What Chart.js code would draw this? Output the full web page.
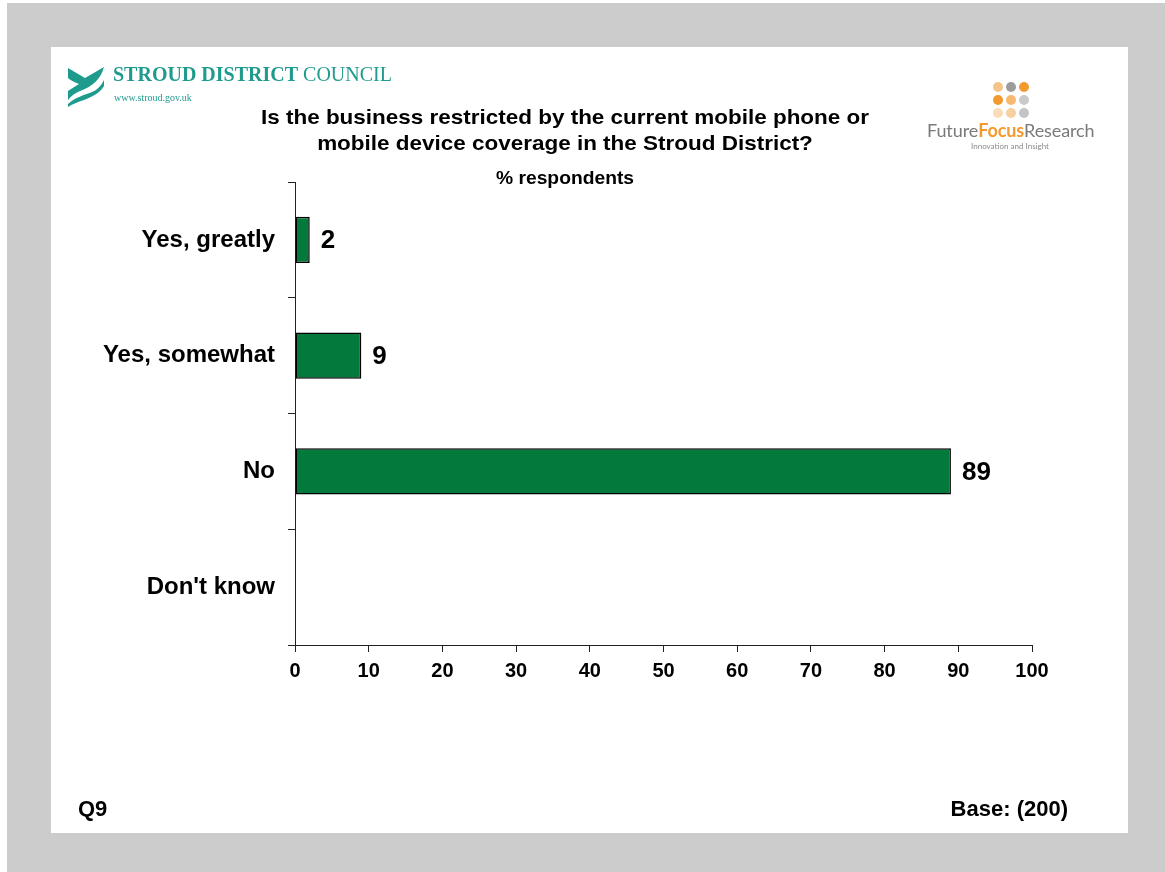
<!DOCTYPE html>
<html>
<head>
<meta charset="utf-8">
<title>Mobile coverage restriction – Stroud District</title>
<script src="https://cdn.jsdelivr.net/npm/chart.js@4.4.1/dist/chart.umd.min.js"></script>
<style>
  html, body { margin: 0; padding: 0; width: 1165px; height: 872px; overflow: hidden; background: #ffffff; }
  .frame { position: absolute; left: 7px; top: 3px; right: 0; bottom: 0; background: #cccccc; }
  .panel { position: absolute; left: 51px; top: 47px; width: 1077px; height: 786px; background: #ffffff; }
  #chart { position: absolute; left: 0; top: 0; z-index: 2; }
  .txt { position: absolute; z-index: 3; font-family: "Liberation Sans", Arial, sans-serif; font-weight: bold; color: #000; white-space: nowrap; }
  .title { left: 215px; width: 700px; top: 104px; text-align: center; font-size: 21px; line-height: 26px; transform: scaleX(1.07); transform-origin: 350px 0; }
  .subtitle { left: 415px; width: 300px; top: 168px; text-align: center; font-size: 18px; line-height: 20px; transform: scaleX(1.07); transform-origin: 150px 0; }
  .foot-left { left: 78px; top: 797px; font-size: 22px; line-height: 24px; }
  .foot-right { right: 97px; top: 797px; font-size: 22px; line-height: 24px; }
  .council { position: absolute; z-index: 3; left: 113px; top: 62px; font-family: "Liberation Serif", "DejaVu Serif", serif; color: #1f9b8e; font-size: 20px; line-height: 24px; white-space: nowrap; }
  .council b { font-weight: bold; }
  .council-web { position: absolute; z-index: 3; left: 114px; top: 93px; font-family: "Liberation Serif", serif; color: #1f9b8e; font-size: 10px; line-height: 10px; }
  .ffr { position: absolute; z-index: 3; left: 927px; top: 119px; font-family: Lato, "Open Sans", sans-serif; font-size: 18px; line-height: 22px; color: #7a7a7a; white-space: nowrap; letter-spacing: -0.1px; }
  .ffr b { color: #f39a2e; font-weight: bold; }
  .ffr-tag { position: absolute; z-index: 3; left: 968px; top: 141px; width: 84px; text-align: center; font-family: Lato, sans-serif; font-size: 8px; line-height: 10px; color: #8a8a8a; white-space: nowrap; }
  svg.logo { position: absolute; z-index: 3; }
</style>
</head>
<body>
<div class="frame"></div>
<div class="panel"></div>

<!-- Council logo -->
<svg class="logo" style="left:64px;top:62px" width="46" height="48" viewBox="64 62 46 48">
  <path d="M68,68 L85,78 L104,67 C101,79 92,87 80,91 C75,93 71,96 68,100 L68,91 C72,88 76,86 79,84 C74,82 70,80 68,78 Z" fill="#1f9b8e"/>
  <path d="M68,104 C74,98 84,95 92,92 C97,90 101,86 104,80 L104,86 C100,93 92,97 84,100 C78,102 72,104 68,107 Z" fill="#1f9b8e"/>
</svg>
<div class="council"><b>STROUD DISTRICT</b> COUNCIL</div>
<div class="council-web">www.stroud.gov.uk</div>

<!-- Research agency logo -->
<svg class="logo" style="left:990px;top:79px" width="42" height="42" viewBox="990 79 42 42">
  <circle cx="998" cy="87" r="5" fill="#f6c48a"/>
  <circle cx="1011" cy="87" r="5" fill="#9c9c9c"/>
  <circle cx="1024" cy="87" r="5" fill="#f39a2e"/>
  <circle cx="998" cy="100" r="5" fill="#f39a2e"/>
  <circle cx="1011" cy="100" r="5" fill="#f7b970"/>
  <circle cx="1024" cy="100" r="5" fill="#c9c9c9"/>
  <circle cx="998" cy="113" r="5" fill="#fbdcb8"/>
  <circle cx="1011" cy="113" r="5" fill="#f8cf9e"/>
  <circle cx="1024" cy="113" r="5" fill="#c4c4c4"/>
</svg>
<div class="ffr">Future<b>Focus</b>Research</div>
<div class="ffr-tag">Innovation and Insight</div>

<div class="txt title">Is the business restricted by the current mobile phone or<br>mobile device coverage in the Stroud District?</div>
<div class="txt subtitle">% respondents</div>
<div class="txt foot-left">Q9</div>
<div class="txt foot-right">Base: (200)</div>

<canvas id="chart" width="1165" height="872"></canvas>

<script>
// Answer categories, top to bottom
const categories = ['Yes, greatly', 'Yes, somewhat', 'No', "Don't know"];
// Share of respondents (%) for each answer; no one answered "Don't know"
const percentValues = [2, 9, 89, null];
// Percentage axis range and step
const axisMin = 0;
const axisMax = 100;
const axisStep = 10;

const FONT = '"Liberation Sans", Arial, sans-serif';
const AXIS_COLOR = '#222222';

// Writes each bar's value just past its end
const valueLabels = {
  id: 'valueLabels',
  afterDatasetsDraw(chart) {
    const ctx = chart.ctx;
    const meta = chart.getDatasetMeta(0);
    const values = chart.data.datasets[0].data;
    ctx.save();
    ctx.font = 'bold 26px ' + FONT;
    ctx.fillStyle = '#000000';
    ctx.textAlign = 'left';
    ctx.textBaseline = 'middle';
    meta.data.forEach((bar, i) => {
      const v = values[i];
      if (v === null || v === undefined) return;
      ctx.fillText(String(v), bar.x + 11, bar.y + 1);
    });
    ctx.restore();
  }
};

new Chart(document.getElementById('chart'), {
  type: 'bar',
  data: {
    labels: categories,
    datasets: [{
      data: percentValues,
      backgroundColor: '#037a3c',
      borderColor: '#000000',
      borderWidth: 1.5,
      borderSkipped: false,
      barPercentage: 0.4,
      categoryPercentage: 1.0
    }]
  },
  options: {
    indexAxis: 'y',
    responsive: false,
    animation: false,
    devicePixelRatio: 1,
    layout: { padding: { left: 0, top: 182, right: 133, bottom: 182 } },
    plugins: {
      legend: { display: false },
      title: { display: false },
      tooltip: { enabled: false }
    },
    scales: {
      x: {
        type: 'linear',
        min: axisMin,
        max: axisMax,
        afterFit(scale) { scale.height = 45; },
        ticks: {
          stepSize: axisStep,
          color: '#000000',
          padding: 7,
          font: { family: FONT, size: 20, weight: 'bold' }
        },
        grid: { drawOnChartArea: false, tickLength: 7, color: AXIS_COLOR, tickColor: AXIS_COLOR },
        border: { display: true, color: AXIS_COLOR, width: 1 }
      },
      y: {
        type: 'category',
        afterFit(scale) { scale.width = 295; },
        ticks: {
          color: '#000000',
          padding: 13,
          font: { family: FONT, size: 24, weight: 'bold' }
        },
        grid: { offset: true, drawOnChartArea: false, tickLength: 7, color: AXIS_COLOR, tickColor: AXIS_COLOR },
        border: { display: true, color: AXIS_COLOR, width: 1 }
      }
    }
  },
  plugins: [valueLabels]
});
</script>
</body>
</html>
